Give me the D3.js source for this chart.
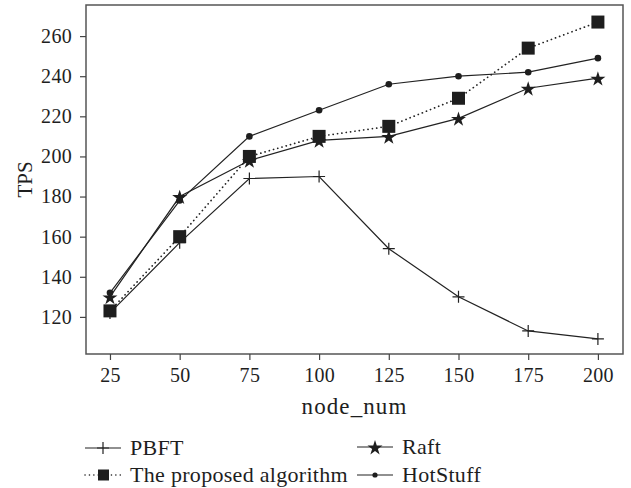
<!DOCTYPE html>
<html>
<head>
<meta charset="utf-8">
<script src="https://cdn.jsdelivr.net/npm/d3@7"></script>
</head>
<body style="margin:0">
<script>
// chart data
var nodeNum = [25, 50, 75, 100, 125, 150, 175, 200];
var pbft = [122, 157, 189, 190, 154, 130, 113, 109];
var proposed = [123, 160, 200, 210, 215, 229, 254, 267];
var raft = [130, 180, 198, 208, 210, 219, 234, 239];
var hotstuff = [132, 178, 210, 223, 236, 240, 242, 249];
var yTicks = [120, 140, 160, 180, 200, 220, 240, 260];

var series = [
  { name: 'PBFT', values: pbft, marker: 'plus', dash: null },
  { name: 'Raft', values: raft, marker: 'star', dash: null },
  { name: 'The proposed algorithm', values: proposed, marker: 'square', dash: '0.1,4.3' },
  { name: 'HotStuff', values: hotstuff, marker: 'circle', dash: null }
];

var width = 631, height = 488;
var margin = { left: 86, top: 5, right: 8, bottom: 134 };

var svg = d3.select('body').append('svg')
    .attr('width', width)
    .attr('height', height)
    .attr('font-family', 'Liberation Serif');

function serif(sel, size) {
  return sel.attr('font-family', 'Liberation Serif')
      .style('font-family', '"Liberation Serif"')
      .style('font-size', size + 'px')
      .attr('fill', '#1e1e1e');
}

var x = d3.scaleLinear()
    .domain([16.4, 209])
    .range([margin.left, width - margin.right]);

var y = d3.scaleLinear()
    .domain([101.5, 275.5])
    .range([height - margin.bottom, margin.top]);

//frame
svg.append('rect')
    .attr('x', margin.left)
    .attr('y', margin.top)
    .attr('width', width - margin.right - margin.left)
    .attr('height', height - margin.bottom - margin.top)
    .attr('fill', 'none')
    .attr('stroke', '#555')
    .attr('stroke-width', 1.5);

//axes
var xAxis = svg.append('g')
    .attr('transform', 'translate(0,' + (height - margin.bottom) + ')')
    .call(d3.axisBottom(x).tickValues(nodeNum).tickSize(6).tickPadding(8));

var yAxis = svg.append('g')
    .attr('transform', 'translate(' + margin.left + ',0)')
    .call(d3.axisLeft(y).tickValues(yTicks).tickSize(6).tickPadding(8));

[xAxis, yAxis].forEach(function(a) {
  a.attr('font-family', 'Liberation Serif').attr('font-size', 20);
  a.select('.domain').remove();
  a.selectAll('line').attr('stroke', '#444').attr('stroke-width', 1.2);
  serif(a.selectAll('text'), 20).style('letter-spacing', '0.3px');
});

serif(svg.append('text'), 23)
    .attr('x', (margin.left + width - margin.right) / 2)
    .attr('y', 414)
    .attr('text-anchor', 'middle')
    .style('letter-spacing', '1.1px')
    .text('node_num');

serif(svg.append('text'), 21)
    .attr('transform', 'translate(32,' + ((margin.top + height - margin.bottom) / 2) + ') rotate(-90)')
    .attr('text-anchor', 'middle')
    .text('TPS');

//marker drawing
var starPath = d3.symbol().type(d3.symbolStar).size(70);
function drawMarker(g, type, cx, cy) {
  if (type === 'plus') {
    g.append('path')
        .attr('d', 'M' + (cx - 6) + ',' + cy + 'H' + (cx + 6) + 'M' + cx + ',' + (cy - 6) + 'V' + (cy + 6))
        .attr('stroke', '#222').attr('stroke-width', 1.2).attr('fill', 'none');
  } else if (type === 'square') {
    g.append('rect')
        .attr('x', cx - 6.5).attr('y', cy - 6.5)
        .attr('width', 13).attr('height', 13)
        .attr('fill', '#1e1e1e');
  } else if (type === 'star') {
    g.append('path')
        .attr('d', starPath)
        .attr('transform', 'translate(' + cx + ',' + (cy + 1) + ')')
        .attr('fill', '#1e1e1e');
  } else {
    g.append('circle')
        .attr('cx', cx).attr('cy', cy).attr('r', 3.3)
        .attr('fill', '#1e1e1e');
  }
}

var line = d3.line()
    .x(function(d, i) { return x(nodeNum[i]); })
    .y(function(d) { return y(d); });

series.forEach(function(s) {
  var g = svg.append('g').attr('class', 'series');
  g.append('path')
      .datum(s.values)
      .attr('d', line)
      .attr('fill', 'none')
      .attr('stroke', '#222')
      .attr('stroke-width', s.dash ? 1.7 : 1.2)
      .attr('stroke-linecap', s.dash ? 'round' : 'butt')
      .attr('stroke-dasharray', s.dash);
  s.values.forEach(function(v, i) {
    drawMarker(g, s.marker, x(nodeNum[i]), y(v));
  });
});

//legend
var legendItems = [
  { s: series[0], lx: 85, ly: 448 },
  { s: series[2], lx: 85, ly: 475 },
  { s: series[1], lx: 357, ly: 447 },
  { s: series[3], lx: 357, ly: 475 }
];
legendItems.forEach(function(it) {
  var g = svg.append('g');
  g.append('line')
      .attr('x1', it.lx).attr('x2', it.lx + 36)
      .attr('y1', it.ly).attr('y2', it.ly)
      .attr('stroke', '#222')
      .attr('stroke-width', it.s.dash ? 1.5 : 1.2)
      .attr('stroke-linecap', it.s.dash ? 'round' : 'butt')
      .attr('stroke-dasharray', it.s.dash);
  if (it.s.marker === 'square') {
    g.append('rect')
        .attr('x', it.lx + 13).attr('y', it.ly - 5.5)
        .attr('width', 11).attr('height', 11)
        .attr('fill', '#1e1e1e');
  } else if (it.s.marker === 'circle') {
    g.append('circle')
        .attr('cx', it.lx + 18).attr('cy', it.ly).attr('r', 2.6)
        .attr('fill', '#1e1e1e');
  } else {
    drawMarker(g, it.s.marker, it.lx + 18, it.ly);
  }
  serif(g.append('text'), 22)
      .attr('x', it.lx + 45)
      .attr('y', it.ly + 7)
      .style('letter-spacing', '0.3px')
      .text(it.s.name);
});
</script>
</body>
</html>
